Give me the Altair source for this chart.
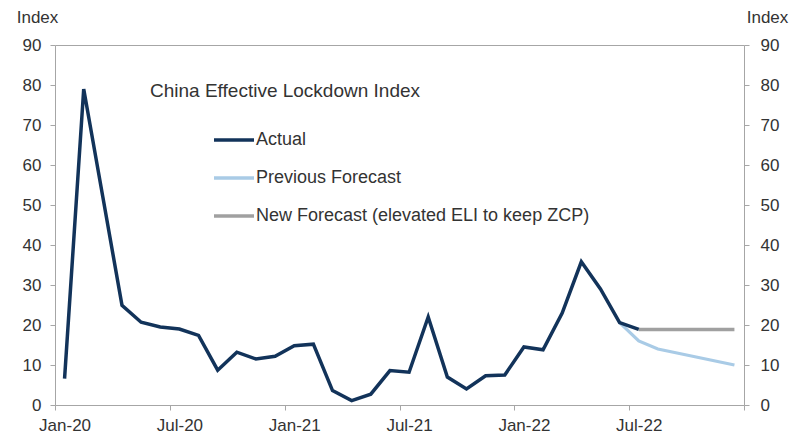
import altair as alt
import pandas as pd

# ---- data ----
month_names = ["Jan", "Feb", "Mar", "Apr", "May", "Jun",
               "Jul", "Aug", "Sep", "Oct", "Nov", "Dec"]
years = ["20", "21", "22"]
months = [f"{m}-{y}" for y in years for m in month_names]

# Actual: Jan-20 .. Jul-22
actual = [6.6, 79.0, 52.0, 24.9, 20.7, 19.5, 19.0, 17.4, 8.7, 13.2, 11.5, 12.2,
          14.8, 15.2, 3.6, 1.1, 2.7, 8.6, 8.2, 22.0, 7.0, 4.0, 7.3, 7.5,
          14.5, 13.8, 23.0, 35.8, 29.0, 20.6, 18.9]
# Previous forecast: Jun-22 .. Dec-22
prev_forecast = [20.6, 16.0, 14.0, 13.0, 12.0, 11.0, 10.0]
# New forecast: Jul-22 .. Dec-22
new_forecast = [18.9, 18.9, 18.9, 18.9, 18.9, 18.9]

tick_labels = ["Jan-20", "Jul-20", "Jan-21", "Jul-21", "Jan-22", "Jul-22"]
series_names = ["Actual", "Previous Forecast",
                "New Forecast (elevated ELI to keep ZCP)"]
series_colors = ["#12335a", "#a9cbe6", "#a0a0a0"]
series_start = ["Jan-20", "Jun-22", "Jul-22"]
series_values = [actual, prev_forecast, new_forecast]

rows = []
for name, start, vals in zip(series_names, series_start, series_values):
    s = months.index(start)
    for k, v in enumerate(vals):
        rows.append({"series": name, "month": months[s + k],
                     "pos": s + k + 0.5, "value": v})
df = pd.DataFrame(rows)

FONT = "Liberation Sans"
TXT = "#333333"
AX = "#a6a6a6"
W, H = 689, 360
band = W / len(months)

label_expr = "[" + ",".join(f"'{t}'" for t in tick_labels) + ",''][datum.value / 6]"

x_axis = alt.Axis(values=[0, 6, 12, 18, 24, 30, 36], labelExpr=label_expr,
                  labelOffset=band / 2, title=None, tickSize=5,
                  labelPadding=7, labelBaseline="top",
                  labelFlush=False, labelOverlap=False)
x_enc = alt.X("pos:Q", scale=alt.Scale(domain=[0, len(months)], nice=False, zero=False),
              axis=x_axis)

y_scale = alt.Scale(domain=[0, 90], nice=False)
y_vals = list(range(0, 91, 10))

left_axis = alt.Axis(orient="left", values=y_vals, title="Index",
                     titleAngle=0, titleX=-18, titleY=-23,
                     titleAlign="center", titleBaseline="alphabetic",
                     tickSize=5, labelPadding=9)
right_axis_def = alt.Axis(orient="right", values=y_vals, title="Index",
                          titleAngle=0, titleX=23, titleY=-23,
                          titleAlign="center", titleBaseline="alphabetic",
                          tickSize=5, labelPadding=11)

color_enc = alt.Color("series:N",
                      scale=alt.Scale(domain=series_names, range=series_colors),
                      legend=alt.Legend(orient="none", legendX=157, legendY=73,
                                        title=None, symbolType="stroke",
                                        symbolSize=1600, symbolStrokeWidth=3.5,
                                        labelFont=FONT, labelFontSize=18,
                                        labelColor=TXT, labelOffset=0,
                                        rowPadding=7, padding=0, labelLimit=0))

def series_layer(name, width, with_axis):
    return alt.Chart(df).transform_filter(
        alt.datum.series == name
    ).mark_line(strokeWidth=width, strokeJoin="miter").encode(
        x=x_enc,
        y=alt.Y("value:Q", scale=y_scale, axis=left_axis if with_axis else None),
        color=color_enc,
    )

lines = [series_layer(series_names[1], 3.2, True),
         series_layer(series_names[2], 3.5, False),
         series_layer(series_names[0], 3.5, False)]

right_axis = alt.Chart(df).mark_line(opacity=0).encode(
    x=x_enc,
    y=alt.Y("value:Q", scale=y_scale, axis=right_axis_def),
)

chart = alt.layer(*lines, right_axis).resolve_axis(y="independent").properties(
    width=W, height=H,
    background="white",
    autosize=alt.AutoSizeParams(type="none"),
    padding={"left": 55, "top": 45, "right": 63, "bottom": 32},
    title=alt.Title("China Effective Lockdown Index", anchor="start", frame="group",
                    dx=95, dy=93, fontSize=19, font=FONT, fontWeight="normal",
                    color=TXT, offset=0),
).configure_view(
    stroke=AX, strokeWidth=1
).configure_axis(
    domain=False, grid=False, tickColor=AX, tickWidth=1,
    labelFont=FONT, labelFontSize=17, labelColor=TXT,
    titleFont=FONT, titleFontSize=17, titleFontWeight="normal", titleColor=TXT,
)

chart.save("out.html", embed_options={"renderer": "svg", "actions": False})
